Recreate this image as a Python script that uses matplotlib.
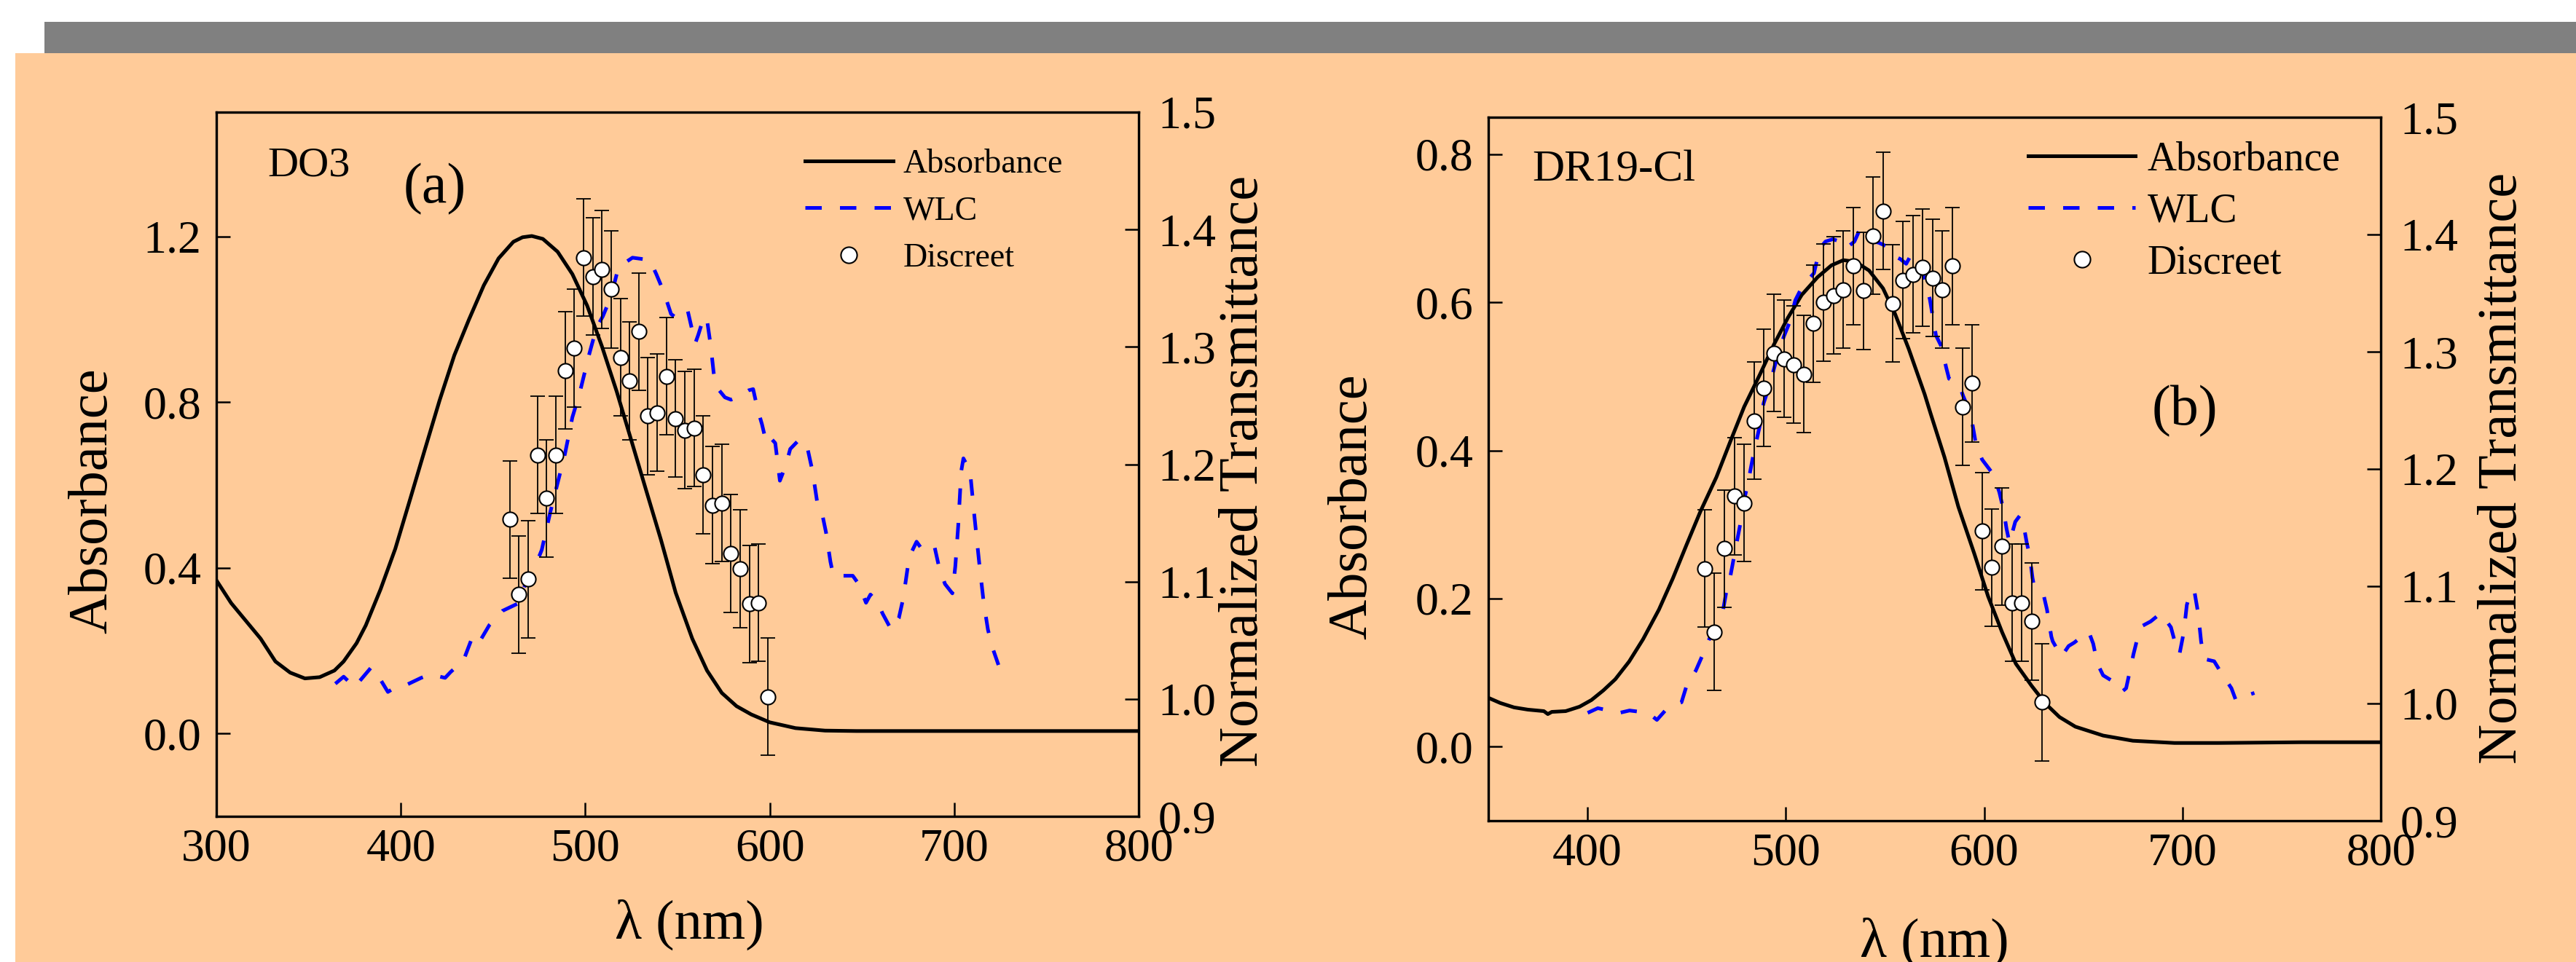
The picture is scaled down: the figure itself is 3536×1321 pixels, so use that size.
import matplotlib
matplotlib.use("Agg")
import matplotlib.pyplot as plt
from matplotlib.patches import Rectangle

plt.rcParams['font.family'] = ['Liberation Serif', 'DejaVu Serif']

# ---------------- data: DO3 (panel a) ----------------
do3_abs_wl = [300, 308, 316, 324, 332, 340, 348, 356, 364, 369, 376, 381, 389, 397,
              405, 413, 421, 429, 437, 445, 453, 461, 466, 471, 477, 485, 493, 501,
              509, 517, 525, 533, 541, 549, 558, 566, 574, 582, 590, 600, 614, 630,
              647, 680, 711, 760, 800]
do3_abs = [0.370, 0.315, 0.272, 0.229, 0.174, 0.147, 0.133, 0.136, 0.152, 0.174,
           0.218, 0.261, 0.348, 0.446, 0.565, 0.685, 0.804, 0.913, 1.000, 1.082,
           1.147, 1.187, 1.198, 1.201, 1.194, 1.163, 1.109, 1.033, 0.935, 0.826,
           0.707, 0.587, 0.468, 0.340, 0.229, 0.152, 0.098, 0.066, 0.046, 0.027,
           0.013, 0.007, 0.006, 0.006, 0.006, 0.006, 0.006]

do3_wlc_wl = [364.5, 369.0, 375.0, 377.0, 384.0, 388.0, 393.0, 397.0, 403.0, 411.0,
              416.0, 424.0, 427.0, 434.0, 438.6, 442.0, 448.0, 455.0, 463.0, 467.6,
              470.8, 476.4, 481.0, 485.0, 489.0, 493.0, 497.0, 502.0, 506.0, 509.5,
              514.0, 518.0, 525.6, 535.0, 538.5, 542.5, 546.5, 550.0, 555.5, 559.6,
              561.2, 564.4, 566.0, 568.0, 569.6, 571.0, 575.7, 579.0, 582.0, 588.6,
              591.0, 593.4, 595.8, 598.2, 600.7, 603.0, 605.5, 608.7, 611.1, 616.0,
              620.0, 623.2, 625.6, 628.0, 630.5, 632.9, 634.5, 645.0, 648.2, 652.2,
              654.6, 658.7, 661.1, 665.9, 670.0, 672.4, 675.6, 679.6, 682.8, 686.0,
              689.3, 691.7, 695.0, 699.0, 700.6, 702.2, 703.8, 705.0, 708.6, 711.0,
              713.5, 716.0, 718.3, 720.7, 724.0]
do3_wlc = [1.013, 1.019, 1.010, 1.014, 1.027, 1.019, 1.006, 1.010, 1.012, 1.018,
           1.021, 1.018, 1.023, 1.033, 1.052, 1.047, 1.063, 1.075, 1.081, 1.098,
           1.105, 1.127, 1.159, 1.184, 1.209, 1.240, 1.261, 1.293, 1.316, 1.326,
           1.343, 1.368, 1.376, 1.374, 1.362, 1.347, 1.328, 1.324, 1.331, 1.303,
           1.310, 1.326, 1.323, 1.301, 1.278, 1.266, 1.257, 1.255, 1.257, 1.263,
           1.264, 1.247, 1.234, 1.218, 1.222, 1.218, 1.186, 1.199, 1.213, 1.221,
           1.217, 1.194, 1.169, 1.161, 1.142, 1.117, 1.105, 1.105, 1.098, 1.082,
           1.089, 1.082, 1.073, 1.059, 1.069, 1.086, 1.121, 1.134, 1.127, 1.127,
           1.130, 1.113, 1.098, 1.090, 1.113, 1.148, 1.194, 1.205, 1.194, 1.155,
           1.117, 1.082, 1.059, 1.044, 1.029]

do3_pts_wl = [459, 464, 469, 474, 479, 484, 489, 494, 499, 504, 509, 514, 519, 524,
              529, 534, 539, 544, 549, 554, 559, 564, 569, 574, 579, 584, 589, 594, 599]
do3_pts = [1.153, 1.089, 1.102, 1.208, 1.171, 1.208, 1.280, 1.299, 1.376, 1.360,
           1.366, 1.349, 1.291, 1.271, 1.313, 1.241, 1.244, 1.275, 1.239, 1.229,
           1.231, 1.191, 1.165, 1.167, 1.124, 1.111, 1.081, 1.082, 1.002]
do3_err = [0.05, 0.05, 0.05, 0.05, 0.05, 0.05, 0.05, 0.05, 0.05, 0.05,
           0.05, 0.05, 0.05, 0.05, 0.05, 0.05, 0.05, 0.05, 0.05, 0.05,
           0.05, 0.05, 0.05, 0.05, 0.05, 0.05, 0.05, 0.05, 0.05]

# ---------------- data: DR19-Cl (panel b) ----------------
dr19_abs_wl = [350, 356, 363, 370, 378, 380, 382, 389, 396, 402, 408, 414, 421, 428,
               436, 443, 450, 457, 465, 472, 479, 487, 494, 501, 508, 516, 523, 529,
               535, 542, 549, 555, 562, 570, 573, 580, 587, 595, 602, 609, 616, 624,
               631, 638, 646, 660, 675, 696, 718, 760, 800]
dr19_abs = [0.066, 0.059, 0.053, 0.050, 0.048, 0.044, 0.047, 0.048, 0.054, 0.063,
            0.076, 0.091, 0.115, 0.145, 0.185, 0.227, 0.273, 0.318, 0.364, 0.412,
            0.459, 0.503, 0.543, 0.579, 0.610, 0.634, 0.650, 0.657, 0.655, 0.643,
            0.619, 0.585, 0.537, 0.476, 0.450, 0.391, 0.324, 0.261, 0.203, 0.155,
            0.112, 0.082, 0.058, 0.040, 0.027, 0.015, 0.008, 0.005, 0.005, 0.006,
            0.006]

dr19_wlc_wl = [400.1, 405.2, 411.0, 416.1, 421.2, 430.6, 435.0, 440.8, 447.4, 450.3,
               454.6, 459.0, 461.9, 465.5, 468.4, 470.6, 472.1, 474.2, 475.0, 477.6,
               479.3, 480.8, 483.4, 484.4, 486.9, 488.8, 491.7, 494.6, 499.0, 501.9,
               504.8, 508.4, 514.2, 517.1, 520.0, 523.7, 527.3, 530.2, 534.6, 537.5,
               540.4, 544.0, 546.9, 550.6, 554.2, 557.8, 560.7, 563.6, 566.5, 569.5,
               572.6, 575.7, 578.6, 580.8, 582.3, 587.3, 589.5, 593.2, 596.0, 599.0,
               604.8, 607.7, 609.9, 611.3, 612.8, 615.7, 617.9, 619.3, 621.5, 623.0,
               624.4, 625.1, 630.2, 631.7, 633.9, 634.6, 639.0, 642.6, 645.5, 647.7,
               652.8, 655.0, 657.1, 660.0, 665.8, 669.5, 671.6, 673.8, 675.3, 677.5,
               679.6, 684.0, 689.1, 694.2, 696.1, 698.5, 700.7, 702.2, 704.4, 706.2,
               708.0, 709.4, 710.9, 716.0, 719.6, 724.7, 726.9, 729.8, 732.7, 736.3]
dr19_wlc = [0.992, 0.996, 0.994, 0.992, 0.994, 0.992, 0.986, 0.997, 1.001, 1.017,
            1.028, 1.045, 1.057, 1.068, 1.080, 1.101, 1.109, 1.128, 1.135, 1.158,
            1.176, 1.187, 1.210, 1.218, 1.237, 1.256, 1.271, 1.289, 1.313, 1.325,
            1.344, 1.356, 1.367, 1.388, 1.394, 1.396, 1.394, 1.388, 1.394, 1.405,
            1.400, 1.394, 1.393, 1.390, 1.382, 1.379, 1.375, 1.384, 1.375, 1.365,
            1.345, 1.314, 1.304, 1.287, 1.277, 1.272, 1.262, 1.247, 1.220, 1.208,
            1.195, 1.180, 1.164, 1.149, 1.137, 1.155, 1.160, 1.158, 1.137, 1.126,
            1.107, 1.101, 1.091, 1.080, 1.057, 1.053, 1.040, 1.049, 1.052, 1.055,
            1.061, 1.051, 1.034, 1.024, 1.018, 1.010, 1.013, 1.030, 1.042, 1.057,
            1.066, 1.070, 1.077, 1.065, 1.053, 1.042, 1.061, 1.084, 1.097, 1.094,
            1.076, 1.053, 1.038, 1.036, 1.026, 1.013, 1.003, 1.003, 1.007, 1.009]

dr19_pts_wl = [459, 464, 469, 474, 479, 484, 489, 494, 499, 504, 509, 514, 519, 524,
               529, 534, 539, 544, 549, 554, 559, 564, 569, 574, 579, 584, 589, 594,
               599, 604, 609, 614, 619, 624, 629]
dr19_pts = [1.115, 1.061, 1.132, 1.177, 1.171, 1.241, 1.269, 1.299, 1.294, 1.289,
            1.281, 1.324, 1.342, 1.348, 1.353, 1.373, 1.352, 1.399, 1.420, 1.341,
            1.361, 1.366, 1.372, 1.363, 1.353, 1.373, 1.253, 1.273, 1.147, 1.116,
            1.134, 1.086, 1.086, 1.070, 1.001]
dr19_err = [0.05, 0.05, 0.05, 0.05, 0.05, 0.05, 0.05, 0.05, 0.05, 0.05,
            0.05, 0.05, 0.05, 0.05, 0.05, 0.05, 0.05, 0.05, 0.05, 0.05,
            0.05, 0.05, 0.05, 0.05, 0.05, 0.05, 0.05, 0.05, 0.05, 0.05,
            0.05, 0.05, 0.05, 0.05, 0.05]

# ---------------- axis ticks ----------------
a_xticks = [300, 400, 500, 600, 700, 800]
a_yticks = [0.0, 0.4, 0.8, 1.2]
b_xticks = [400, 500, 600, 700, 800]
b_yticks = [0.0, 0.2, 0.4, 0.6, 0.8]
t_ticks = [0.9, 1.0, 1.1, 1.2, 1.3, 1.4, 1.5]

# ---------------- figure ----------------
W, H, DPI = 3537, 1321, 100
fig = plt.figure(figsize=(W / DPI, H / DPI), dpi=DPI, facecolor='white')

ORANGE = '#FFCB99'
GRAY = '#808080'
BLUE = '#0000FF'

fig.patches.append(Rectangle((21 / W, 0), 1 - 21 / W, 1 - 73 / H,
                             transform=fig.transFigure, facecolor=ORANGE,
                             edgecolor='none', zorder=-10))
fig.patches.append(Rectangle((61 / W, 1 - 73 / H), 1 - 61 / W, 43 / H,
                             transform=fig.transFigure, facecolor=GRAY,
                             edgecolor='none', zorder=-10))


def make_axes(left, top, right, bottom):
    ax = fig.add_axes([left / W, 1 - bottom / H, (right - left) / W, (bottom - top) / H])
    ax.set_facecolor('none')
    ax2 = ax.twinx()
    ax2.set_facecolor('none')
    for a in (ax, ax2):
        for s in a.spines.values():
            s.set_linewidth(2.3)
    ax.tick_params(axis='both', direction='in', length=14, width=1.8, labelsize=46)
    ax.tick_params(axis='x', pad=12)
    ax.tick_params(axis='y', pad=15)
    ax2.tick_params(axis='y', direction='in', length=14, width=1.8, labelsize=46, pad=19)
    return ax, ax2


def draw_panel(ax, ax2, abs_wl, abs_v, wlc_wl, wlc_v, p_wl, p_v, p_err,
               legend_font, legend_anchor, legend_spacing):
    h_abs, = ax.plot(abs_wl, abs_v, color='black', lw=3.6, label='Absorbance',
                     solid_joinstyle='round')
    h_wlc, = ax2.plot(wlc_wl, wlc_v, color=BLUE, lw=3.6, ls=(0, (4.5, 5.0)), label='WLC')
    ax2.errorbar(p_wl, p_v, yerr=p_err, fmt='none', ecolor='black', elinewidth=1.3,
                 capsize=7, capthick=1.3, zorder=3)
    h_pts, = ax2.plot(p_wl, p_v, 'o', ms=14.5, mfc='white', mec='black', mew=1.5,
                      ls='none', label='Discreet', zorder=4)
    ax2.legend(handles=[h_abs, h_wlc, h_pts], loc='upper left',
               bbox_to_anchor=legend_anchor, frameon=False, fontsize=legend_font,
               handlelength=2.65, handletextpad=0.29, labelspacing=legend_spacing,
               borderpad=0, borderaxespad=0, markerscale=1.1)


# ---- panel (a) ----
axa, axa2 = make_axes(297, 154, 1563, 1121)
draw_panel(axa, axa2, do3_abs_wl, do3_abs, do3_wlc_wl, do3_wlc,
           do3_pts_wl, do3_pts, do3_err, 33, (0.638, 0.948), 0.48)
axa.set_xlim(300, 800)
axa.set_ylim(-0.2, 1.5)
axa2.set_ylim(0.9, 1.5)
axa.set_xticks(a_xticks)
axa.set_xticklabels([str(v) for v in a_xticks])
axa.set_yticks(a_yticks)
axa.set_yticklabels([f'{v:.1f}' for v in a_yticks])
axa2.set_yticks(t_ticks)
axa2.set_yticklabels([f'{v:.1f}' for v in t_ticks])
axa.set_xlabel('λ (nm)', fontsize=55, va='center')
axa.xaxis.set_label_coords(0.513, -0.154)
axa.set_ylabel('Absorbance', fontsize=55, va='center', ha='center')
axa.yaxis.set_label_coords(-0.134, 0.448)
axa2.set_ylabel('Normalized Transmittance', fontsize=55, va='center', ha='center',
                rotation=90)
axa2.yaxis.set_label_coords(1.1145, 0.490)
axa.text(0.0553, 0.909, 'DO3', transform=axa.transAxes, fontsize=42,
         ha='left', va='baseline')
axa.text(0.237, 0.891, '(a)', transform=axa.transAxes, fontsize=56,
         ha='center', va='center')

# ---- panel (b) ----
axb, axb2 = make_axes(2043, 161, 3268, 1127)
draw_panel(axb, axb2, dr19_abs_wl, dr19_abs, dr19_wlc_wl, dr19_wlc,
           dr19_pts_wl, dr19_pts, dr19_err, 40, (0.605, 0.966), 0.34)
axb.set_xlim(350, 800)
axb.set_ylim(-0.1, 0.85)
axb2.set_ylim(0.9, 1.5)
axb.set_xticks(b_xticks)
axb.set_xticklabels([str(v) for v in b_xticks])
axb.set_yticks(b_yticks)
axb.set_yticklabels([f'{v:.1f}' for v in b_yticks])
axb2.set_yticks(t_ticks)
axb2.set_yticklabels([f'{v:.1f}' for v in t_ticks])
axb.set_xlabel('λ (nm)', fontsize=55, va='center')
axb.xaxis.set_label_coords(0.50, -0.174)
axb.set_ylabel('Absorbance', fontsize=55, va='center', ha='center')
axb.yaxis.set_label_coords(-0.152, 0.446)
axb2.set_ylabel('Normalized Transmittance', fontsize=55, va='center', ha='center',
                rotation=90)
axb2.yaxis.set_label_coords(1.137, 0.501)
axb.text(0.049, 0.909, 'DR19-Cl', transform=axb.transAxes, fontsize=44,
         ha='left', va='baseline')
axb.text(0.780, 0.582, '(b)', transform=axb.transAxes, fontsize=56,
         ha='center', va='center')

fig.savefig('out.png', dpi=DPI, facecolor=fig.get_facecolor())
